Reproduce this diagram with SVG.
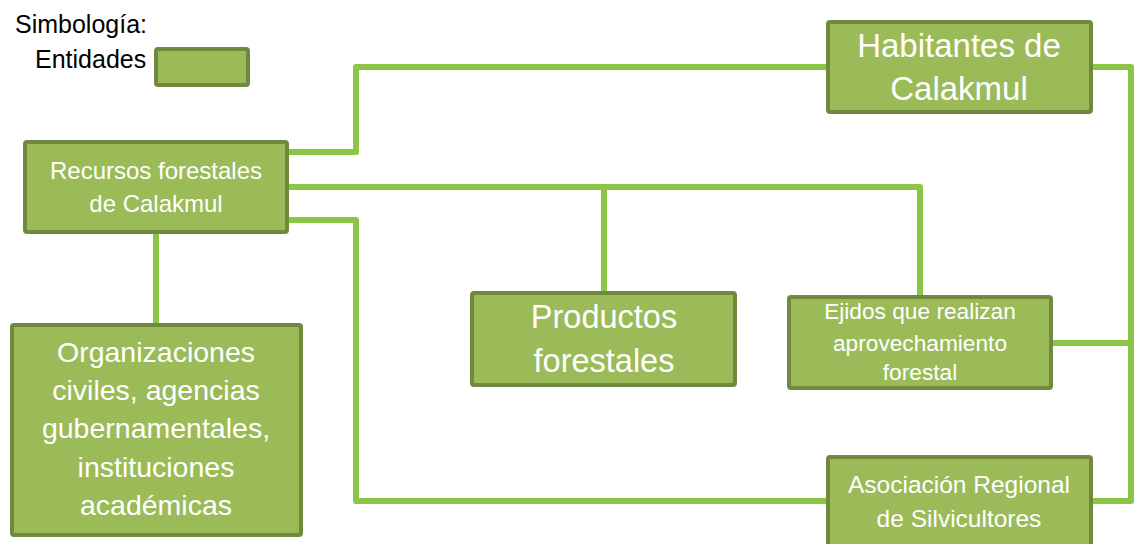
<svg xmlns="http://www.w3.org/2000/svg" width="1134" height="544" viewBox="0 0 1134 544">
<style>
.box{fill:#9BBB59;stroke:#71893F;stroke-width:4}
.lbl{fill:#FFFFFF;font-family:"Liberation Sans",Arial,sans-serif;text-anchor:middle}
.leg{fill:#000000;font-family:"Liberation Sans",Arial,sans-serif;font-size:25px}
.con{fill:none;stroke:#8DC646;stroke-width:6;stroke-linejoin:round}
</style>
<rect x="0" y="0" width="1134" height="544" fill="#FFFFFF"/>
<g id="legend">
<text class="leg" x="15" y="33">Simbología:</text>
<text class="leg" x="35" y="68">Entidades</text>
<rect class="box" x="156" y="49" width="92" height="36" rx="2"/>
</g>
<g id="connectors">
<path class="con" d="M289,152 H356 V67 H826"/>
<path class="con" d="M289,187 H920 V295"/>
<path class="con" d="M604,187 V291"/>
<path class="con" d="M289,220 H356 V501 H826"/>
<path class="con" d="M156,234 V323"/>
<path class="con" d="M1093,67 H1131 V501 H1093"/>
<path class="con" d="M1053,343 H1131"/>
</g>
<g id="recursos">
<rect class="box" x="25" y="142" width="262" height="90" rx="2"/>
<text class="lbl" font-size="24" x="156" y="179">Recursos forestales</text>
<text class="lbl" font-size="24" x="156" y="212">de Calakmul</text>
</g>
<g id="habitantes">
<rect class="box" x="828" y="22" width="263" height="90" rx="2"/>
<text class="lbl" font-size="33" x="959" y="57">Habitantes de</text>
<text class="lbl" font-size="33" x="959" y="100">Calakmul</text>
</g>
<g id="productos">
<rect class="box" x="472" y="293" width="263" height="92" rx="2"/>
<text class="lbl" font-size="32.5" x="604" y="328">Productos</text>
<text class="lbl" font-size="32.5" x="604" y="372">forestales</text>
</g>
<g id="ejidos">
<rect class="box" x="789" y="297" width="262" height="91" rx="2"/>
<text class="lbl" font-size="22.7" x="920" y="319">Ejidos que realizan</text>
<text class="lbl" font-size="22.7" x="920" y="351">aprovechamiento</text>
<text class="lbl" font-size="22.7" x="920" y="380">forestal</text>
</g>
<g id="asociacion">
<rect class="box" x="828" y="457" width="263" height="95" rx="2"/>
<text class="lbl" font-size="24.5" x="959" y="493">Asociación Regional</text>
<text class="lbl" font-size="24.5" x="959" y="527">de Silvicultores</text>
</g>
<g id="organizaciones">
<rect class="box" x="12" y="325" width="289" height="210" rx="2"/>
<text class="lbl" font-size="28.5" x="156" y="362">Organizaciones</text>
<text class="lbl" font-size="28.5" x="156" y="400">civiles, agencias</text>
<text class="lbl" font-size="28.5" x="156" y="438">gubernamentales,</text>
<text class="lbl" font-size="28.5" x="156" y="477">instituciones</text>
<text class="lbl" font-size="28.5" x="156" y="515">académicas</text>
</g>
</svg>
